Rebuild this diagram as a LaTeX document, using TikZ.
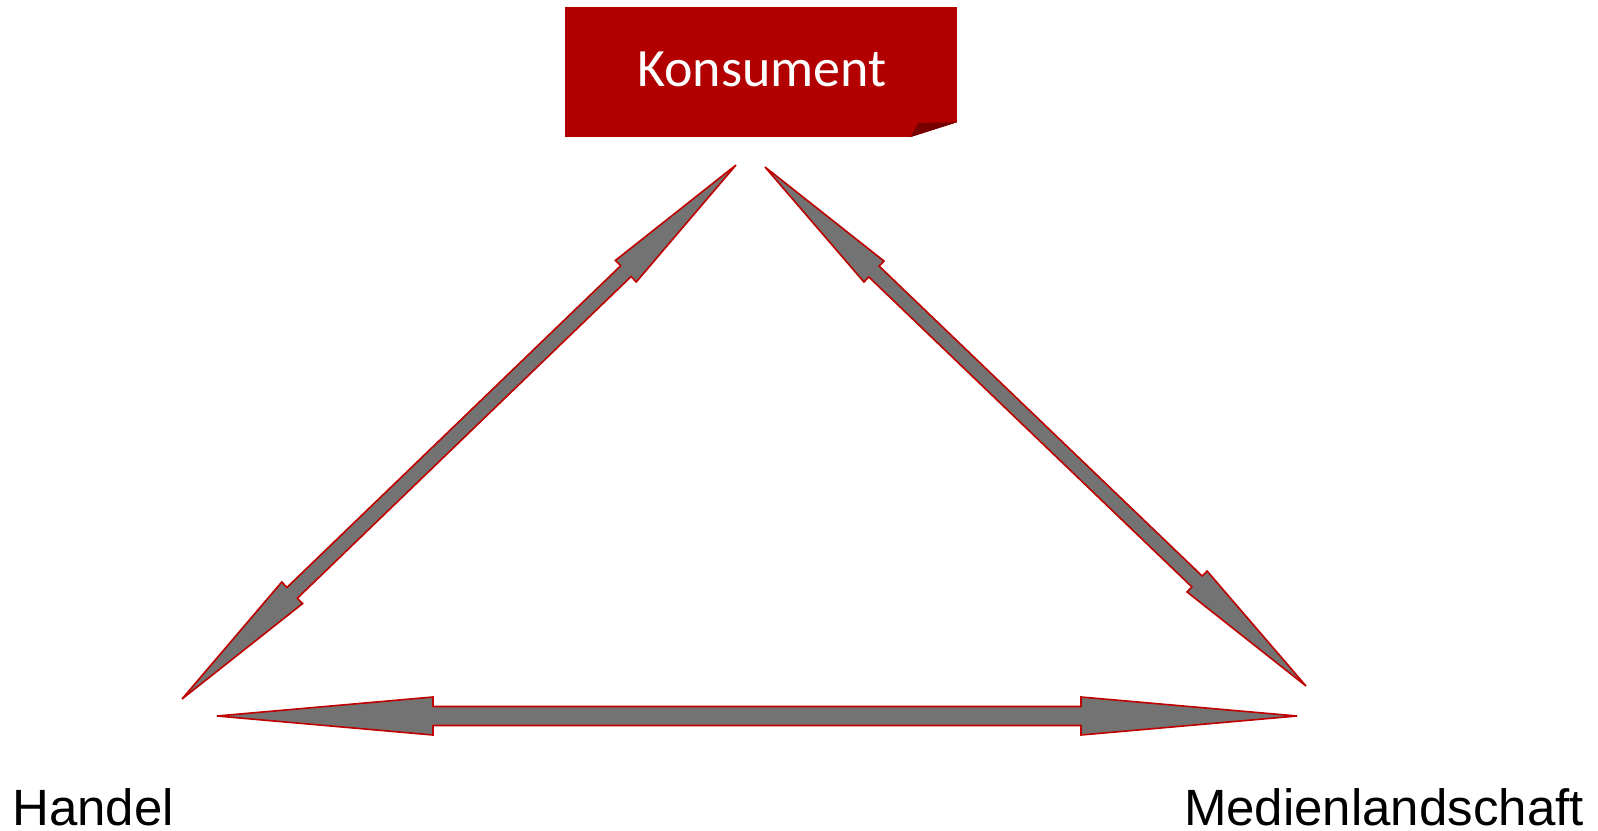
\documentclass[tikz,border=0pt]{standalone}
\usepackage{fontspec}
\setmainfont{Liberation Sans}
\newfontfamily\carlito{Carlito}
\usetikzlibrary{calc}
\definecolor{konsred}{RGB}{178,0,0}
\definecolor{foldred}{RGB}{118,0,0}
\definecolor{arrgray}{RGB}{115,115,115}
\definecolor{arrline}{RGB}{192,0,0}
% #1,#2 tips, #3 head length, #4 half head width, #5 half shaft width
\newcommand\dblarrow[5]{
  \path ($(#1)!#3!(#2)$) coordinate (p) ($(#2)!#3!(#1)$) coordinate (q);
  \filldraw[arr] (#1) -- ($(p)!#4!90:(#2)$) -- ($(p)!#5!90:(#2)$) -- ($(q)!#5!-90:(#1)$)
    -- ($(q)!#4!-90:(#1)$) -- (#2) -- ($(q)!#4!90:(#1)$) -- ($(q)!#5!90:(#1)$)
    -- ($(p)!#5!-90:(#2)$) -- ($(p)!#4!-90:(#2)$) -- cycle;
}
\begin{document}
\begin{tikzpicture}[x=1pt,y=-1pt,
    arr/.style={fill=arrgray,draw=arrline,line width=1.6pt,line join=miter},
    lbl/.style={inner sep=0pt,text depth=0pt,font=\fontsize{51}{60}\selectfont}]
  \useasboundingbox (0,0) rectangle (1598,830);
  \node[fill=konsred,minimum width=392pt,minimum height=130pt,inner sep=0pt] (kons) at (761,72) {};
  \fill[white] (kons.south east) -- ++(0,-15) -- ++(-47,15) -- cycle;
  \fill[foldred] (kons.south east) ++(-47,0) -- ++(8,-14) -- ++(39,-1) -- cycle;
  \node[text=white,inner sep=0pt,font=\carlito\fontsize{54}{64}\selectfont,anchor=base] (konstext) at (762,86) {Konsument};
  \node[lbl,anchor=base west] (handel) at (12,825) {Handel};
  \node[lbl,anchor=base east] (medien) at (1584,825) {Medienlandschaft};
  \coordinate (ka) at (736,165);
  \coordinate (ha) at (182,699);
  \coordinate (kb) at (765,167);
  \coordinate (mb) at (1306,686);
  \coordinate (hc) at (217,716);
  \coordinate (mc) at (1297,716);
  \dblarrow{ha}{ka}{153pt}{15pt}{7.5pt}
  \dblarrow{kb}{mb}{151pt}{14.5pt}{7.5pt}
  \dblarrow{hc}{mc}{216pt}{19pt}{9.5pt}
\end{tikzpicture}
\end{document}
